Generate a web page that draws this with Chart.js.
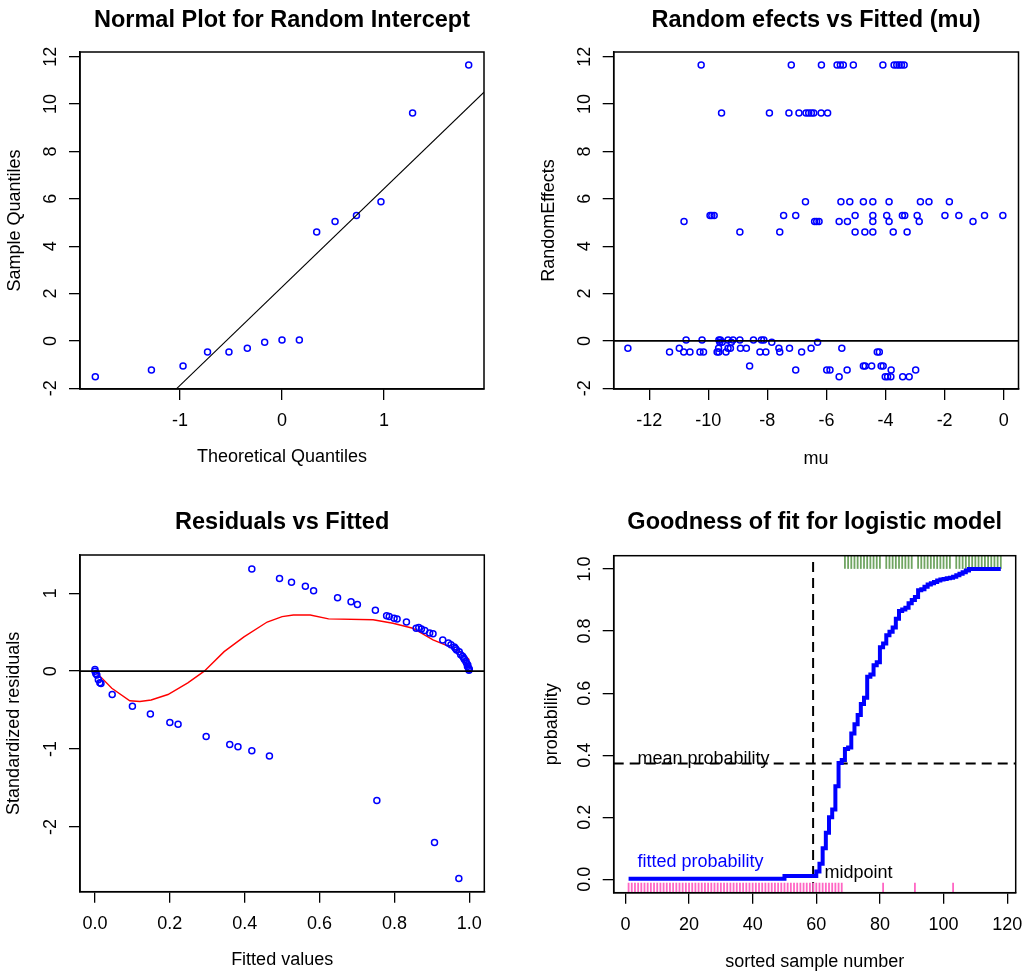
<!DOCTYPE html>
<html><head><meta charset="utf-8">
<script src="https://cdn.jsdelivr.net/npm/chart.js"></script>
<style>
html,body{margin:0;padding:0;background:#fff;}
#wrap{position:relative;width:1024px;height:974px;overflow:hidden;}
.cell{position:absolute;width:512px;height:487px;}
canvas{display:block;}
</style></head><body>
<div id="wrap">
<div class="cell" style="left:0;top:0"><canvas id="c1" width="512" height="487"></canvas></div>
<div class="cell" style="left:512px;top:0"><canvas id="c2" width="512" height="487"></canvas></div>
<div class="cell" style="left:0;top:487px"><canvas id="c3" width="512" height="487"></canvas></div>
<div class="cell" style="left:512px;top:487px"><canvas id="c4" width="512" height="487"></canvas></div>
</div>
<script>
// ---------------- Panel 1: Normal Q-Q plot ----------------
const qqTheoretical = [-1.83,-1.28,-0.97,-0.73,-0.52,-0.34,-0.17,0.00,0.17,0.34,0.52,0.73,0.97,1.28,1.83];
const qqSample      = [-1.51,-1.23,-1.06,-0.47,-0.47,-0.31,-0.06,0.04,0.04,4.60,5.04,5.30,5.88,9.62,11.65];
const qqLineX = [-1.03, 1.98];
const qqLineY = [-2.0, 10.5];
const p1XTicks = [-1, 0, 1];
const p1YTicks = [-2, 0, 2, 4, 6, 8, 10, 12];

// ---------------- Panel 2: Random effects vs fitted mu ----------------
const p2Mu = [
  -10.24,-7.19,-6.17,-5.64,-5.53,-5.43,-5.09,-4.09,-3.71,-3.62,-3.54,-3.46,-3.37,
  -9.55,-7.93,-7.27,-6.93,-6.69,-6.60,-6.51,-6.43,-6.18,-5.96,
  -6.71,-5.51,-5.21,-4.75,-4.43,-3.88,-2.82,-2.53,-1.84,
  -9.94,-9.88,-9.80,-7.45,-7.04,-5.03,-4.43,-3.96,-3.43,-3.35,-2.93,-1.99,-1.52,-0.65,-0.03,
  -10.82,-6.40,-6.33,-6.25,-5.57,-5.29,-4.43,-3.88,-2.86,-1.04,
  -8.93,-7.58,-5.03,-4.70,-4.43,-3.74,-3.27,
  -10.75,-10.21,-9.64,-9.59,-9.33,-9.16,-8.93,-8.47,-8.20,-8.12,
  -9.61,-9.53,-9.22,-7.85,-6.30,
  -12.72,-10.98,-9.65,-9.33,-9.25,-8.91,-8.71,-7.61,-7.25,-6.52,-5.48,
  -11.31,-10.83,-10.62,-10.28,-10.16,-9.70,-9.64,-9.40,-8.25,-8.05,-7.58,-6.84,-4.28,-4.21,
  -8.60,-4.75,-4.69,-4.47,-4.15,-4.08,
  -7.04,-5.99,-5.88,-5.30,-3.81,-2.98,
  -5.57,-4.01,-3.93,-3.82,-3.42,-3.20
];
const p2Re = [
  11.65,11.65,11.65,11.65,11.65,11.65,11.65,11.65,11.65,11.65,11.65,11.65,11.65,
  9.62,9.62,9.62,9.62,9.62,9.62,9.62,9.62,9.62,9.62,
  5.88,5.88,5.88,5.88,5.88,5.88,5.88,5.88,5.88,
  5.30,5.30,5.30,5.30,5.30,5.30,5.30,5.30,5.30,5.30,5.30,5.30,5.30,5.30,5.30,
  5.04,5.04,5.04,5.04,5.04,5.04,5.04,5.04,5.04,5.04,
  4.60,4.60,4.60,4.60,4.60,4.60,4.60,
  0.04,0.04,0.04,0.04,0.04,0.04,0.04,0.04,0.04,0.04,
  -0.06,-0.06,-0.06,-0.06,-0.06,
  -0.31,-0.31,-0.31,-0.31,-0.31,-0.31,-0.31,-0.31,-0.31,-0.31,-0.31,
  -0.47,-0.47,-0.47,-0.47,-0.47,-0.47,-0.47,-0.47,-0.47,-0.47,-0.47,-0.47,-0.47,-0.47,
  -1.06,-1.06,-1.06,-1.06,-1.06,-1.06,
  -1.23,-1.23,-1.23,-1.23,-1.23,-1.23,
  -1.51,-1.51,-1.51,-1.51,-1.51,-1.51
];
const p2XTicks = [-12, -10, -8, -6, -4, -2, 0];
const p2YTicks = [-2, 0, 2, 4, 6, 8, 10, 12];

// ---------------- Panel 3: Residuals vs fitted ----------------
const resFitted = [
  0.000,0.000,0.002,0.005,0.009,0.013,0.016,0.046,0.100,0.148,0.200,0.222,0.297,0.360,0.382,0.419,0.466,0.753,0.907,0.972,
  0.419,0.493,0.525,0.562,0.584,0.648,0.684,0.701,0.749,0.779,0.786,0.799,0.807,0.832,0.858,0.865,0.872,0.881,0.894,0.903,
  0.929,0.944,0.951,0.960,0.963,0.966,0.973,0.977,0.982,0.985,0.987,0.991,0.993,0.995,0.996,0.998,0.999,1.000
];
const resStd = [
  0.02,0.00,-0.03,-0.05,-0.11,-0.15,-0.16,-0.30,-0.45,-0.55,-0.66,-0.68,-0.84,-0.94,-0.97,-1.02,-1.09,-1.66,-2.20,-2.66,
  1.31,1.19,1.14,1.09,1.03,0.94,0.89,0.855,0.78,0.71,0.70,0.68,0.67,0.63,0.55,0.56,0.54,0.52,0.49,0.48,
  0.40,0.36,0.34,0.31,0.29,0.27,0.25,0.21,0.19,0.17,0.15,0.12,0.10,0.06,0.08,0.04,0.01,0.025
];
const loessX = [0.000,0.045,0.093,0.120,0.150,0.195,0.248,0.292,0.345,0.398,0.460,0.500,0.530,0.575,0.624,0.743,0.796,0.849,0.903,0.947,0.982,1.000];
const loessY = [0.00,-0.22,-0.38,-0.39,-0.37,-0.30,-0.15,0.00,0.25,0.44,0.63,0.70,0.72,0.72,0.67,0.66,0.615,0.55,0.40,0.315,0.23,0.145];
const p3XTicks = [0, 0.2, 0.4, 0.6, 0.8, 1.0];
const p3XLabels = ['0.0', '0.2', '0.4', '0.6', '0.8', '1.0'];
const p3YTicks = [-2, -1, 0, 1];

// ---------------- Panel 4: Goodness of fit ----------------
const fittedProb = [
  0.002,0.002,0.002,0.002,0.002,0.002,0.002,0.002,0.002,0.002,
  0.002,0.002,0.002,0.002,0.002,0.002,0.002,0.002,0.002,0.002,
  0.002,0.002,0.002,0.002,0.002,0.002,0.002,0.002,0.002,0.002,
  0.002,0.002,0.002,0.002,0.002,0.002,0.002,0.002,0.002,0.002,
  0.002,0.002,0.002,0.002,0.002,0.002,0.002,0.002,0.002,0.011,
  0.011,0.011,0.011,0.011,0.011,0.011,0.011,0.011,0.011,0.025,
  0.05,0.10,0.15,0.20,0.225,0.30,0.375,0.385,0.42,0.425,
  0.47,0.50,0.53,0.565,0.585,0.653,0.66,0.69,0.70,0.748,
  0.76,0.787,0.798,0.812,0.84,0.865,0.87,0.875,0.89,0.90,
  0.91,0.932,0.935,0.943,0.95,0.954,0.958,0.963,0.966,0.968,
  0.97,0.972,0.975,0.98,0.985,0.99,0.995,1.0,1.0,1.0,
  1.0,1.0,1.0,1.0,1.0,1.0,1.0,1.0
];
const observed = [
  0,0,0,0,0,0,0,0,0,0, 0,0,0,0,0,0,0,0,0,0, 0,0,0,0,0,0,0,0,0,0,
  0,0,0,0,0,0,0,0,0,0, 0,0,0,0,0,0,0,0,0,0, 0,0,0,0,0,0,0,0,0,0,
  0,0,0,0,0,0,0,0,1,1, 1,1,1,1,1,1,1,1,1,1, 0,1,1,1,1,1,1,1,1,1,
  0,1,1,1,1,1,1,1,1,1, 1,1,0,1,1,1,1,1,1,1, 1,1,1,1,1,1,1,1
];
const meanProb = 0.373;
const midpointSample = 59;
const p4XTicks = [0, 20, 40, 60, 80, 100, 120];
const p4YTicks = [0, 0.2, 0.4, 0.6, 0.8, 1.0];
const p4YLabels = ['0.0', '0.2', '0.4', '0.6', '0.8', '1.0'];

// ---------------- drawing helpers ----------------
const FONT = '"Liberation Sans", Arial, Helvetica, sans-serif';
const W = 512, H = 487;
const BLUE = '#0000ff';
const panels = {};

function pts(xs, ys) { return xs.map((x, i) => ({ x: x, y: ys[i] })); }

function drawRefs(chart, over) {
  const p = panels[chart.canvas.id];
  if (!p.refs) return;
  const { ctx, chartArea: a } = chart;
  const xs = chart.scales.x, ys = chart.scales.y;
  ctx.save();
  ctx.beginPath(); ctx.rect(a.left, a.top, a.right - a.left, a.bottom - a.top); ctx.clip();
  p.refs.filter(r => !!r.over === over).forEach(r => {
    ctx.strokeStyle = r.color || '#000';
    ctx.lineWidth = r.width || 1;
    ctx.setLineDash(r.dash || []);
    ctx.beginPath();
    if (r.h !== undefined) {
      const py = ys.getPixelForValue(r.h);
      ctx.moveTo(a.left, py); ctx.lineTo(a.right, py);
    } else {
      const px = xs.getPixelForValue(r.v);
      ctx.moveTo(px, r.to !== undefined ? ys.getPixelForValue(r.to) : a.top);
      ctx.lineTo(px, a.bottom);
    }
    ctx.stroke();
  });
  ctx.restore();
}

const rPlot = {
  id: 'rPlot',
  beforeDatasetsDraw(chart) { drawRefs(chart, false); },
  afterDatasetsDraw(chart) { drawRefs(chart, true); },
  afterDraw(chart) {
    const p = panels[chart.canvas.id];
    const { ctx, chartArea: a } = chart;
    const xs = chart.scales.x, ys = chart.scales.y;
    ctx.save();
    ctx.setLineDash([]);
    ctx.strokeStyle = '#000'; ctx.lineWidth = 1.5;
    ctx.strokeRect(a.left, a.top, a.right - a.left, a.bottom - a.top);
    ctx.fillStyle = '#000';
    ctx.font = 'bold 23.5px ' + FONT;
    ctx.textAlign = 'center'; ctx.textBaseline = 'alphabetic';
    ctx.fillText(p.title, (a.left + a.right) / 2, p.titleY);
    ctx.font = '18px ' + FONT;
    ctx.textBaseline = 'middle';
    p.xTicks.forEach((v, i) => ctx.fillText(p.xLabels[i], xs.getPixelForValue(v), a.bottom + 32));
    p.yTicks.forEach((v, i) => {
      ctx.save();
      ctx.translate(a.left - 29, ys.getPixelForValue(v));
      ctx.rotate(-Math.PI / 2);
      ctx.fillText(p.yLabels[i], 0, 0);
      ctx.restore();
    });
    (p.texts || []).forEach(t => {
      ctx.fillStyle = t.color || '#000';
      ctx.textAlign = 'left';
      ctx.fillText(t.text, xs.getPixelForValue(t.x), ys.getPixelForValue(t.y));
    });
    ctx.restore();
  }
};

function axisOpts(isX, cfg) {
  const a = cfg.area;
  const rng = isX ? cfg.xRange : cfg.yRange;
  const tks = isX ? cfg.xTicks : cfg.yTicks;
  return {
    type: 'linear',
    position: isX ? 'bottom' : 'left',
    min: rng[0], max: rng[1],
    afterBuildTicks: s => { s.ticks = tks.map(v => ({ value: v })); },
    afterFit: s => { if (isX) s.height = H - a.bottom; else s.width = a.left; },
    ticks: { display: false },
    grid: { display: true, drawOnChartArea: false, drawTicks: true, tickLength: 11, tickWidth: 1.3, tickColor: '#000', color: '#000', lineWidth: 1.3 },
    border: { display: true, color: '#000', width: 1.5 },
    title: {
      display: true, text: isX ? cfg.xTitle : cfg.yTitle, color: '#000',
      font: { family: FONT, size: 18 },
      padding: isX ? { top: 0, bottom: cfg.xTitlePad } : { top: cfg.yTitlePad, bottom: 0 }
    }
  };
}

function buildChart(id, cfg) {
  panels[id] = cfg;
  const a = cfg.area;
  return new Chart(document.getElementById(id), {
    type: 'scatter',
    data: { datasets: cfg.datasets },
    options: {
      responsive: false, animation: false, events: [],
      layout: { padding: { left: 0, top: a.top, right: W - a.right, bottom: 0 } },
      plugins: { legend: { display: false }, tooltip: { enabled: false } },
      scales: { x: axisOpts(true, cfg), y: axisOpts(false, cfg) }
    },
    plugins: [rPlot]
  });
}

function circles(data) {
  return { data: data, pointStyle: 'circle', pointRadius: 3, pointBorderWidth: 1.5,
           pointBorderColor: BLUE, pointBackgroundColor: 'rgba(0,0,0,0)', showLine: false };
}
function line(data, color, width, extra) {
  return Object.assign({ data: data, showLine: true, borderColor: color, borderWidth: width,
           pointRadius: 0, tension: 0, fill: false }, extra || {});
}

Chart.defaults.font.family = FONT;

// Panel 1
buildChart('c1', {
  area: { left: 80, top: 52, right: 484, bottom: 389 },
  xRange: [-1.98, 1.98], yRange: [-2.03, 12.2],
  xTicks: p1XTicks, xLabels: p1XTicks.map(String),
  yTicks: p1YTicks, yLabels: p1YTicks.map(String),
  title: 'Normal Plot for Random Intercept', titleY: 27,
  xTitle: 'Theoretical Quantiles', xTitlePad: 19,
  yTitle: 'Sample Quantiles', yTitlePad: 4,
  datasets: [ line(pts(qqLineX, qqLineY), '#000', 1.1), circles(pts(qqTheoretical, qqSample)) ]
});

// Panel 2
buildChart('c2', {
  area: { left: 101.7, top: 52, right: 507, bottom: 389 },
  xRange: [-13.2, 0.5], yRange: [-2.03, 12.2],
  xTicks: p2XTicks, xLabels: p2XTicks.map(String),
  yTicks: p2YTicks, yLabels: p2YTicks.map(String),
  title: 'Random efects vs Fitted (mu)', titleY: 27,
  xTitle: 'mu', xTitlePad: 17,
  yTitle: 'RandomEffects', yTitlePad: 26,
  refs: [{ h: 0, width: 1.6, over: true }],
  datasets: [ circles(pts(p2Mu, p2Re)) ]
});

// Panel 3
buildChart('c3', {
  area: { left: 80, top: 68, right: 484.3, bottom: 404.7 },
  xRange: [-0.04, 1.04], yRange: [-2.83, 1.49],
  xTicks: p3XTicks, xLabels: p3XLabels,
  yTicks: p3YTicks, yLabels: p3YTicks.map(String),
  title: 'Residuals vs Fitted', titleY: 42,
  xTitle: 'Fitted values', xTitlePad: 3,
  yTitle: 'Standardized residuals', yTitlePad: 3.5,
  refs: [{ h: 0, width: 1.7, over: true }],
  datasets: [ circles(pts(resFitted, resStd)), line(pts(loessX, loessY), '#ff0000', 1.4) ]
});

// Panel 4
const sampleNo = fittedProb.map((_, i) => i + 1);
const rug0 = sampleNo.filter((s, i) => observed[i] === 0);
const rug1 = sampleNo.filter((s, i) => observed[i] === 1);
buildChart('c4', {
  area: { left: 101.7, top: 68.7, right: 506.7, bottom: 405.7 },
  xRange: [-3.68, 122.68], yRange: [-0.043, 1.043],
  xTicks: p4XTicks, xLabels: p4XTicks.map(String),
  yTicks: p4YTicks, yLabels: p4YLabels,
  title: 'Goodness of fit for logistic model', titleY: 42,
  xTitle: 'sorted sample number', xTitlePad: 1.5,
  yTitle: 'probability', yTitlePad: 29,
  refs: [
    { h: meanProb, width: 2, dash: [10, 6], over: false },
    { v: midpointSample, to: 1.023, width: 2, dash: [10, 6], over: false }
  ],
  texts: [
    { text: 'mean probability', x: 3.8, y: 0.388, color: '#000' },
    { text: 'fitted probability', x: 3.8, y: 0.055, color: BLUE },
    { text: 'midpoint', x: 62.6, y: 0.021, color: '#000' }
  ],
  datasets: [
    line(pts(sampleNo, fittedProb), BLUE, 4, { stepped: 'before' }),
    { data: rug0.map(s => ({ x: s, y: -0.027 })), pointStyle: 'line', pointRotation: 90, pointRadius: 5,
      pointBorderColor: '#ff66c4', pointBorderWidth: 1.8, showLine: false, clip: false },
    { data: rug1.map(s => ({ x: s, y: 1.0215 })), pointStyle: 'line', pointRotation: 90, pointRadius: 6.5,
      pointBorderColor: 'rgb(112,165,98)', pointBorderWidth: 1.8, showLine: false, clip: false }
  ]
});
</script>
</body></html>
